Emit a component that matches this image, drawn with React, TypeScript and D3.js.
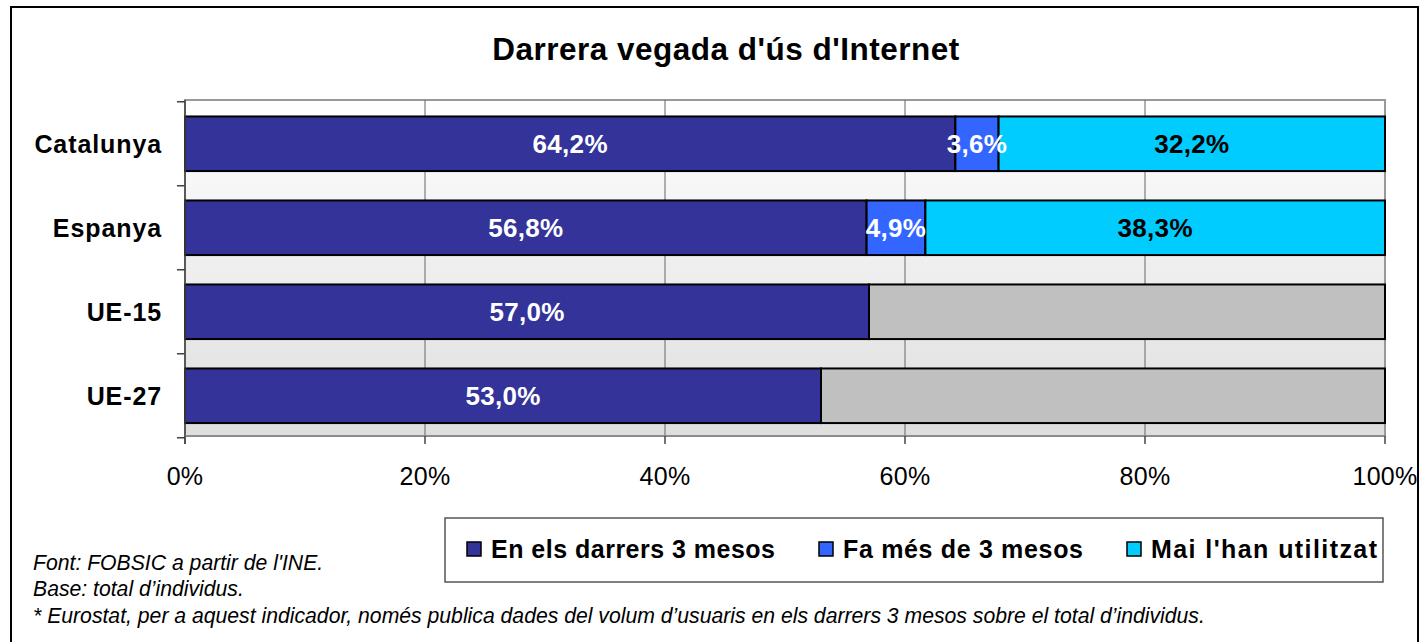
import { useEffect, useRef } from 'react';
import * as d3 from 'd3';

// Chart data
const categories = ['Catalunya', 'Espanya', 'UE-15', 'UE-27'];
const seriesNames = ['En els darrers 3 mesos', 'Fa més de 3 mesos', "Mai l'han utilitzat"];
const recent = [64.2, 56.8, 57.0, 53.0];
const older = [3.6, 4.9, 0, 0];
const never = [32.2, 38.3, 0, 0];
// UE rows only report the first value, the rest is drawn in grey
const rest = [0, 0, 43.0, 47.0];
const xTicks = [0, 20, 40, 60, 80, 100];
const notes = [
  "Font: FOBSIC a partir de l'INE.",
  'Base: total d’individus.',
  '* Eurostat, per a aquest indicador, només publica dades del volum d’usuaris en els darrers 3 mesos sobre el total d’individus.',
];

const colors = ['#333399', '#3366FF', '#00CCFF', '#C0C0C0'];
const labelColors = ['#ffffff', '#ffffff', '#000000', '#000000'];
const FONT = '"Liberation Sans", Arial, sans-serif';

const App = () => {
  const svgRef = useRef<SVGSVGElement>(null);
  const width = 1420;
  const height = 642;

  useEffect(() => {
    const svg = d3.select(svgRef.current);
    svg.selectAll('*').remove();

    const plot = { left: 185, right: 1385, top: 100, bottom: 436 };

    const x = d3.scaleLinear().domain([0, 100]).range([plot.left, plot.right]);
    const y = d3.scaleBand<string>()
      .domain(categories)
      .range([plot.top, plot.bottom])
      .paddingInner(0.35)
      .paddingOuter(0.175)
      .align(0.56);

    // outer frame
    svg.append('rect')
      .attr('x', 11).attr('y', 7)
      .attr('width', 1407).attr('height', 650)
      .attr('fill', '#fff')
      .attr('stroke', '#000')
      .attr('stroke-width', 2);

    // title
    svg.append('text')
      .attr('x', 726).attr('y', 60)
      .attr('text-anchor', 'middle')
      .attr('font-family', FONT)
      .attr('font-size', 31.5)
      .attr('font-weight', 'bold')
      .attr('letter-spacing', 0.5)
      .text("Darrera vegada d'ús d'Internet");

    // plot background gradient
    const defs = svg.append('defs');
    const grad = defs.append('linearGradient')
      .attr('id', 'bg').attr('x1', 0).attr('y1', 0).attr('x2', 0).attr('y2', 1);
    grad.append('stop').attr('offset', '0%').attr('stop-color', '#ffffff');
    grad.append('stop').attr('offset', '100%').attr('stop-color', '#dedede');

    svg.append('rect')
      .attr('x', plot.left).attr('y', plot.top)
      .attr('width', plot.right - plot.left).attr('height', plot.bottom - plot.top)
      .attr('fill', 'url(#bg)')
      .attr('stroke', '#999')
      .attr('stroke-width', 2);

    // vertical grid lines
    svg.append('g')
      .selectAll('line')
      .data(xTicks.slice(1, -1))
      .enter()
      .append('line')
      .attr('x1', d => x(d)).attr('x2', d => x(d))
      .attr('y1', plot.top).attr('y2', plot.bottom)
      .attr('stroke', '#666')
      .attr('stroke-width', 1);

    // stacked bars
    const rows = categories.map((c, i) => ({
      category: c,
      values: [recent[i], older[i], never[i], rest[i]],
    }));
    const stack = rows.map(r => {
      let acc = 0;
      return r.values.map((v, k) => {
        const seg = { category: r.category, k, v, x0: acc, x1: acc + v };
        acc += v;
        return seg;
      });
    }).flat().filter(s => s.v > 0);

    svg.append('g')
      .selectAll('rect')
      .data(stack)
      .enter()
      .append('rect')
      .attr('x', d => x(d.x0))
      .attr('y', d => y(d.category) || 0)
      .attr('width', d => x(d.x1) - x(d.x0))
      .attr('height', y.bandwidth())
      .attr('fill', d => colors[d.k])
      .attr('stroke', '#000')
      .attr('stroke-width', 2);

    // value labels
    svg.append('g')
      .selectAll('text')
      .data(stack.filter(s => s.k < 3))
      .enter()
      .append('text')
      .attr('x', d => (x(d.x0) + x(d.x1)) / 2)
      .attr('y', d => (y(d.category) || 0) + y.bandwidth() / 2 + 9)
      .attr('text-anchor', 'middle')
      .attr('font-family', FONT)
      .attr('font-size', 26)
      .attr('font-weight', 'bold')
      .attr('letter-spacing', 0.3)
      .attr('fill', d => labelColors[d.k])
      .text(d => d.v.toFixed(1).replace('.', ',') + '%');

    // axis lines
    const step = y.step();
    const gap = (step - y.bandwidth()) / 2;
    const axis = svg.append('g').attr('stroke', '#444').attr('stroke-width', 1.5);
    axis.append('line')
      .attr('x1', plot.left).attr('x2', plot.left)
      .attr('y1', plot.top).attr('y2', plot.bottom + 8);
    axis.append('line')
      .attr('x1', plot.left).attr('x2', plot.right)
      .attr('y1', plot.bottom).attr('y2', plot.bottom)
      .attr('stroke', '#888');

    // y ticks at band boundaries
    const yBounds = categories.map(c => (y(c) || 0) - gap);
    yBounds.push((y(categories[categories.length - 1]) || 0) + y.bandwidth() + gap);
    axis.selectAll('.ytick')
      .data(yBounds)
      .enter()
      .append('line')
      .attr('x1', plot.left - 8).attr('x2', plot.left)
      .attr('y1', d => d).attr('y2', d => d);

    // x ticks
    axis.selectAll('.xtick')
      .data(xTicks)
      .enter()
      .append('line')
      .attr('x1', d => x(d)).attr('x2', d => x(d))
      .attr('y1', plot.bottom).attr('y2', plot.bottom + 8);

    // category labels
    svg.append('g')
      .selectAll('text')
      .data(categories)
      .enter()
      .append('text')
      .attr('x', 162)
      .attr('y', d => (y(d) || 0) + y.bandwidth() / 2 + 9)
      .attr('text-anchor', 'end')
      .attr('font-family', FONT)
      .attr('font-size', 25)
      .attr('font-weight', 'bold')
      .attr('letter-spacing', 0.9)
      .text(d => d);

    // x tick labels
    svg.append('g')
      .selectAll('text')
      .data(xTicks)
      .enter()
      .append('text')
      .attr('x', d => x(d))
      .attr('y', 485)
      .attr('text-anchor', 'middle')
      .attr('font-family', FONT)
      .attr('font-size', 25)
      .attr('letter-spacing', 0.3)
      .text(d => d + '%');

    // legend
    svg.append('rect')
      .attr('x', 445).attr('y', 518)
      .attr('width', 938).attr('height', 64)
      .attr('fill', '#fff')
      .attr('stroke', '#555')
      .attr('stroke-width', 1.5);

    const legendX = [467, 819, 1127];
    const legendLen = [284, 240, 226];
    const legend = svg.append('g')
      .selectAll('g')
      .data(seriesNames)
      .enter()
      .append('g')
      .attr('transform', (_, i) => `translate(${legendX[i]},542)`);
    legend.append('rect')
      .attr('width', 14).attr('height', 14)
      .attr('fill', (_, i) => colors[i])
      .attr('stroke', '#000')
      .attr('stroke-width', 1.5);
    legend.append('text')
      .attr('x', 24).attr('y', 16)
      .attr('font-family', FONT)
      .attr('font-size', 25)
      .attr('font-weight', 'bold')
      .attr('textLength', (_, i) => legendLen[i])
      .attr('lengthAdjust', 'spacing')
      .text(d => d);

    // footnotes
    svg.append('g')
      .selectAll('text')
      .data(notes)
      .enter()
      .append('text')
      .attr('x', 33)
      .attr('y', (_, i) => [570, 596, 623][i])
      .attr('font-family', FONT)
      .attr('font-size', 21.2)
      .attr('font-style', 'italic')
      .text(d => d);
  }, []);

  return (
    <svg
      ref={svgRef}
      width={width}
      height={height}
      style={{ position: 'absolute', left: 0, top: 0, background: '#fff' }}
    ></svg>
  );
};

export default App;
